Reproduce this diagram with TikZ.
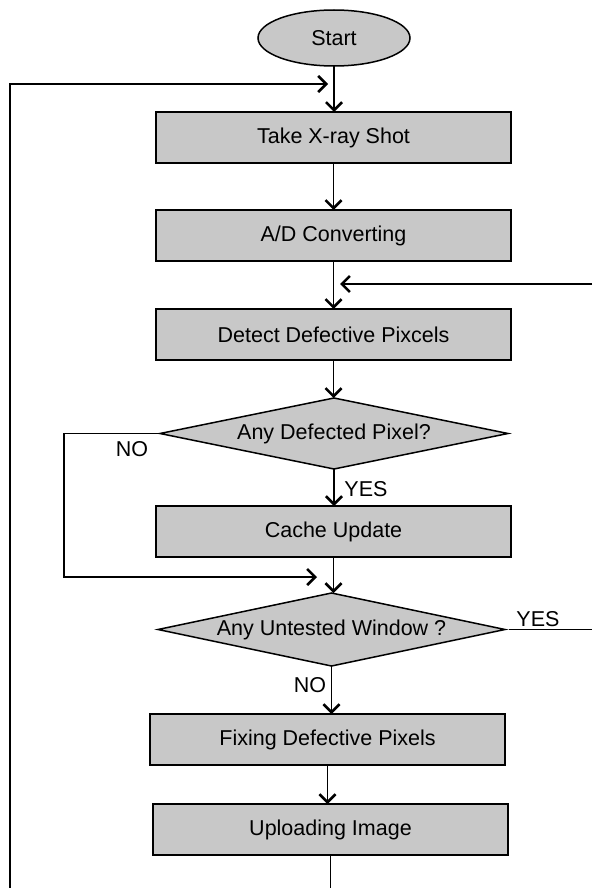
\documentclass[tikz,border=0pt]{standalone}
\usepackage{fontspec}
\setmainfont{Liberation Sans}
\usetikzlibrary{shapes.geometric,arrows.meta}
\definecolor{boxfill}{RGB}{200,200,200}
\begin{document}
\begin{tikzpicture}[x=1pt,y=-1pt,
  font=\fontsize{21.5}{25}\selectfont,
  procbox/.style={draw, line width=1.8pt, fill=boxfill, minimum width=355pt, minimum height=51pt, inner sep=0pt, outer sep=0pt},
  decbox/.style={draw, diamond, line width=1.5pt, fill=boxfill, inner sep=0pt, outer sep=0pt, aspect=4.8},
  conn/.style={line width=1.6pt},
  arr/.style={conn, -{Straight Barb[length=8pt,width=16pt,line width=2.6pt]}},
  lbl/.style={inner sep=0pt}]
\useasboundingbox (0,0) rectangle (592,888);

\node[ellipse, draw, fill=boxfill, line width=1.5pt, minimum width=152pt, minimum height=56pt, inner sep=0pt, outer sep=0pt] (start) at (334,38) {Start};
\node[procbox] (take) at (333.5,137.5) {Take X-ray Shot};
\node[procbox] (ad) at (333.5,235.5) {A/D Converting};
\node[procbox] (detect) at (333.5,334.5) {Detect Defective Pixcels};
\node[decbox, minimum width=348pt, minimum height=71pt] (dec1) at (334,433.5) {Any Defected Pixel?};
\node[procbox] (cache) at (333.5,531.5) {Cache Update};
\node[decbox, minimum width=347pt, minimum height=73pt] (dec2) at (331.5,629.5) {Any Untested Window ?};
\node[procbox] (fix) at (327.5,739.5) {Fixing Defective Pixels};
\node[procbox] (upload) at (330.5,829.5) {Uploading Image};

\draw[arr] (start.south) -- (start.south |- take.north);
\draw[arr] (take.south) -- (take.south |- ad.north);
\draw[arr] (ad.south) -- (ad.south |- detect.north);
\draw[arr] (detect.south) -- (detect.south |- dec1.north);
\draw[arr] (dec1.south) -- (dec1.south |- cache.north);
\draw[arr] (cache.south) -- (cache.south |- dec2.north);
\draw[arr] (dec2.south) -- (dec2.south |- fix.north);
\draw[arr] (fix.south) -- (fix.south |- upload.north);

\coordinate (bottom) at (330.5,888);
\draw[conn] (upload.south) -- (upload.south |- bottom);

\coordinate (loopbot) at (10,888);
\coordinate (looptop) at (10,84);
\coordinate (looptip) at (328,84);
\draw[arr] (loopbot) -- (looptop) -- (looptip);

\coordinate (nocorner1) at (64,433.5);
\coordinate (nocorner2) at (64,577);
\coordinate (notip) at (317,577);
\draw[arr] (dec1.west) -- (nocorner1) -- (nocorner2) -- (notip);

\coordinate (yesend) at (592,629.5);
\draw[conn] ([xshift=4pt]dec2.east) -- (yesend);
\coordinate (retstart) at (592,284);
\coordinate (rettip) at (340,284);
\draw[arr] (retstart) -- (rettip);

\node[lbl] (no1) at (132,449) {NO};
\node[lbl] (yes1) at (366,489) {YES};
\node[lbl] (yes2) at (538,619) {YES};
\node[lbl] (no2) at (310,685) {NO};
\end{tikzpicture}
\end{document}
